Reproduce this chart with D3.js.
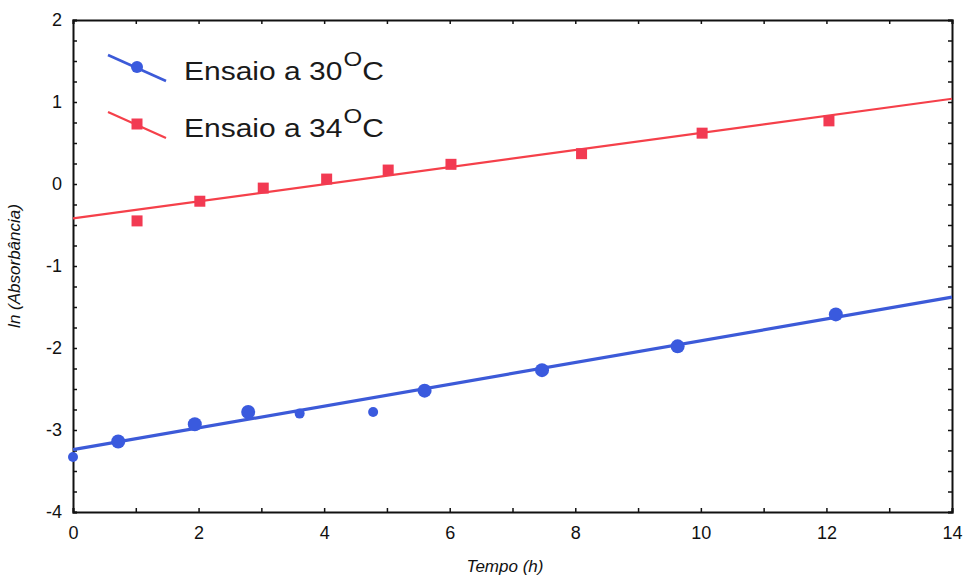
<!DOCTYPE html>
<html>
<head>
<meta charset="utf-8">
<script src="https://cdn.jsdelivr.net/npm/d3@7"></script>
<style>
  body { margin: 0; background: #fff; }
  text { font-family: "Liberation Sans", Arial, sans-serif; }
</style>
</head>
<body>
<div id="chart"></div>
<script>
// data
var t30 = [0, 0.72, 1.94, 2.79, 3.61, 4.78, 5.6, 7.47, 9.63, 12.15];
var ln30 = [-3.33, -3.14, -2.93, -2.78, -2.8, -2.78, -2.52, -2.27, -1.98, -1.59];
var fit30 = [-3.24, -1.38];   // fitted line at t = 0 and t = 14

var t34 = [1.02, 2.02, 3.03, 4.04, 5.02, 6.02, 8.1, 10.02, 12.04];
var ln34 = [-0.45, -0.21, -0.05, 0.06, 0.17, 0.24, 0.37, 0.62, 0.77];
var fit34 = [-0.42, 1.04];

var xTicks = [0, 2, 4, 6, 8, 10, 12, 14];
var yTicks = [-4, -3, -2, -1, 0, 1, 2];

var margin = {top: 20, right: 16, bottom: 63, left: 73},
    width = 968 - margin.left - margin.right,
    height = 575 - margin.top - margin.bottom;

var svg = d3.select("#chart").append("svg")
    .attr("width", 968)
    .attr("height", 575)
  .append("g")
    .attr("transform", "translate(" + margin.left + "," + margin.top + ")");

var x = d3.scaleLinear().domain([0, 14]).range([0, width]);
var y = d3.scaleLinear().domain([-4, 2]).range([height, 0]);

// plain hyphen for negatives, like the original
var fmt = function(d) { return String(d); };

// frame with inward ticks on all four sides
var minorX = d3.range(0, 15, 1);
var minorY = d3.range(-4, 2.01, 0.25);

svg.append("g")
    .attr("transform", "translate(0," + height + ")")
    .call(d3.axisBottom(x).tickValues(minorX).tickSize(-4).tickFormat(""));
svg.append("g")
    .attr("transform", "translate(0," + height + ")")
    .call(d3.axisBottom(x).tickValues(xTicks).tickSize(0).tickPadding(14).tickFormat(fmt))
    .call(function(g) { g.select(".domain").remove(); });
svg.append("g")
    .call(d3.axisTop(x).tickValues(minorX).tickSize(-4).tickFormat(""));
svg.append("g")
    .call(d3.axisLeft(y).tickValues(minorY).tickSize(-4).tickFormat(""));
svg.append("g")
    .call(d3.axisLeft(y).tickValues(yTicks).tickSize(0).tickPadding(11).tickFormat(fmt))
    .call(function(g) { g.select(".domain").remove(); });
svg.append("g")
    .attr("transform", "translate(" + width + ",0)")
    .call(d3.axisRight(y).tickValues(minorY).tickSize(-4).tickFormat(""));

svg.selectAll(".domain").attr("stroke", "#111").attr("stroke-width", 2);
svg.selectAll(".tick line").attr("stroke", "#111").attr("stroke-width", 1.5);
svg.selectAll(".tick text").attr("font-size", 18).attr("fill", "#111")
    .style("font-family", "Liberation Sans, Arial, sans-serif");

// fitted lines
svg.append("line")
    .attr("x1", x(0)).attr("y1", y(fit34[0]))
    .attr("x2", x(14)).attr("y2", y(fit34[1]))
    .attr("stroke", "#f5404a").attr("stroke-width", 2.2);

svg.append("line")
    .attr("x1", x(0)).attr("y1", y(fit30[0]))
    .attr("x2", x(14)).attr("y2", y(fit30[1]))
    .attr("stroke", "#3c5ad8").attr("stroke-width", 3.2);

// points
var blue = t30.map(function(d, i) { return {t: d, v: ln30[i]}; });
var red = t34.map(function(d, i) { return {t: d, v: ln34[i]}; });

svg.selectAll(".p30")
    .data(blue)
  .enter().append("circle")
    .attr("class", "p30")
    .attr("cx", function(d) { return x(d.t); })
    .attr("cy", function(d) { return y(d.v); })
    .attr("r", function(d, i) { return (i == 0 || i == 4 || i == 5) ? 5 : 7; })
    .attr("fill", "#3a5ade");

svg.selectAll(".p34")
    .data(red)
  .enter().append("rect")
    .attr("class", "p34")
    .attr("x", function(d) { return x(d.t) - 5.5; })
    .attr("y", function(d) { return y(d.v) - 5.5; })
    .attr("width", 11)
    .attr("height", 11)
    .attr("fill", "#f23a52");

// legend
var legend = [
  {label: "30", color: "#3c5ad8", y: 67},
  {label: "34", color: "#f5404a", y: 124}
];
var lg = d3.select("svg").append("g");
legend.forEach(function(d, i) {
  lg.append("line")
      .attr("x1", 108).attr("y1", d.y - 12)
      .attr("x2", 166).attr("y2", d.y + 14)
      .attr("stroke", d.color).attr("stroke-width", i == 0 ? 2.6 : 2.2);
  if (i == 0) {
    lg.append("circle").attr("cx", 137).attr("cy", d.y).attr("r", 6).attr("fill", "#3a5ade");
  } else {
    lg.append("rect").attr("x", 131.5).attr("y", d.y - 5.5).attr("width", 11).attr("height", 11).attr("fill", "#f23a52");
  }
  var txt = lg.append("text")
      .attr("transform", "translate(184," + (d.y + 13) + ") scale(1.2,1)")
      .attr("font-size", 25).attr("fill", "#1a1a1a");
  txt.append("tspan").text("Ensaio a " + d.label);
  txt.append("tspan").attr("dx", 1).attr("dy", -14).attr("font-size", 20).text("O");
  txt.append("tspan").attr("dy", 14).text("C");
});

// axis titles
d3.select("svg").append("text")
    .attr("x", 505).attr("y", 572)
    .attr("text-anchor", "middle")
    .attr("font-size", 17).attr("font-style", "italic").attr("fill", "#111")
    .text("Tempo (h)");

d3.select("svg").append("text")
    .attr("transform", "translate(20,266) rotate(-90)")
    .attr("text-anchor", "middle")
    .attr("font-size", 17).attr("font-style", "italic").attr("fill", "#111")
    .text("ln (Absorbância)");
</script>
</body>
</html>
